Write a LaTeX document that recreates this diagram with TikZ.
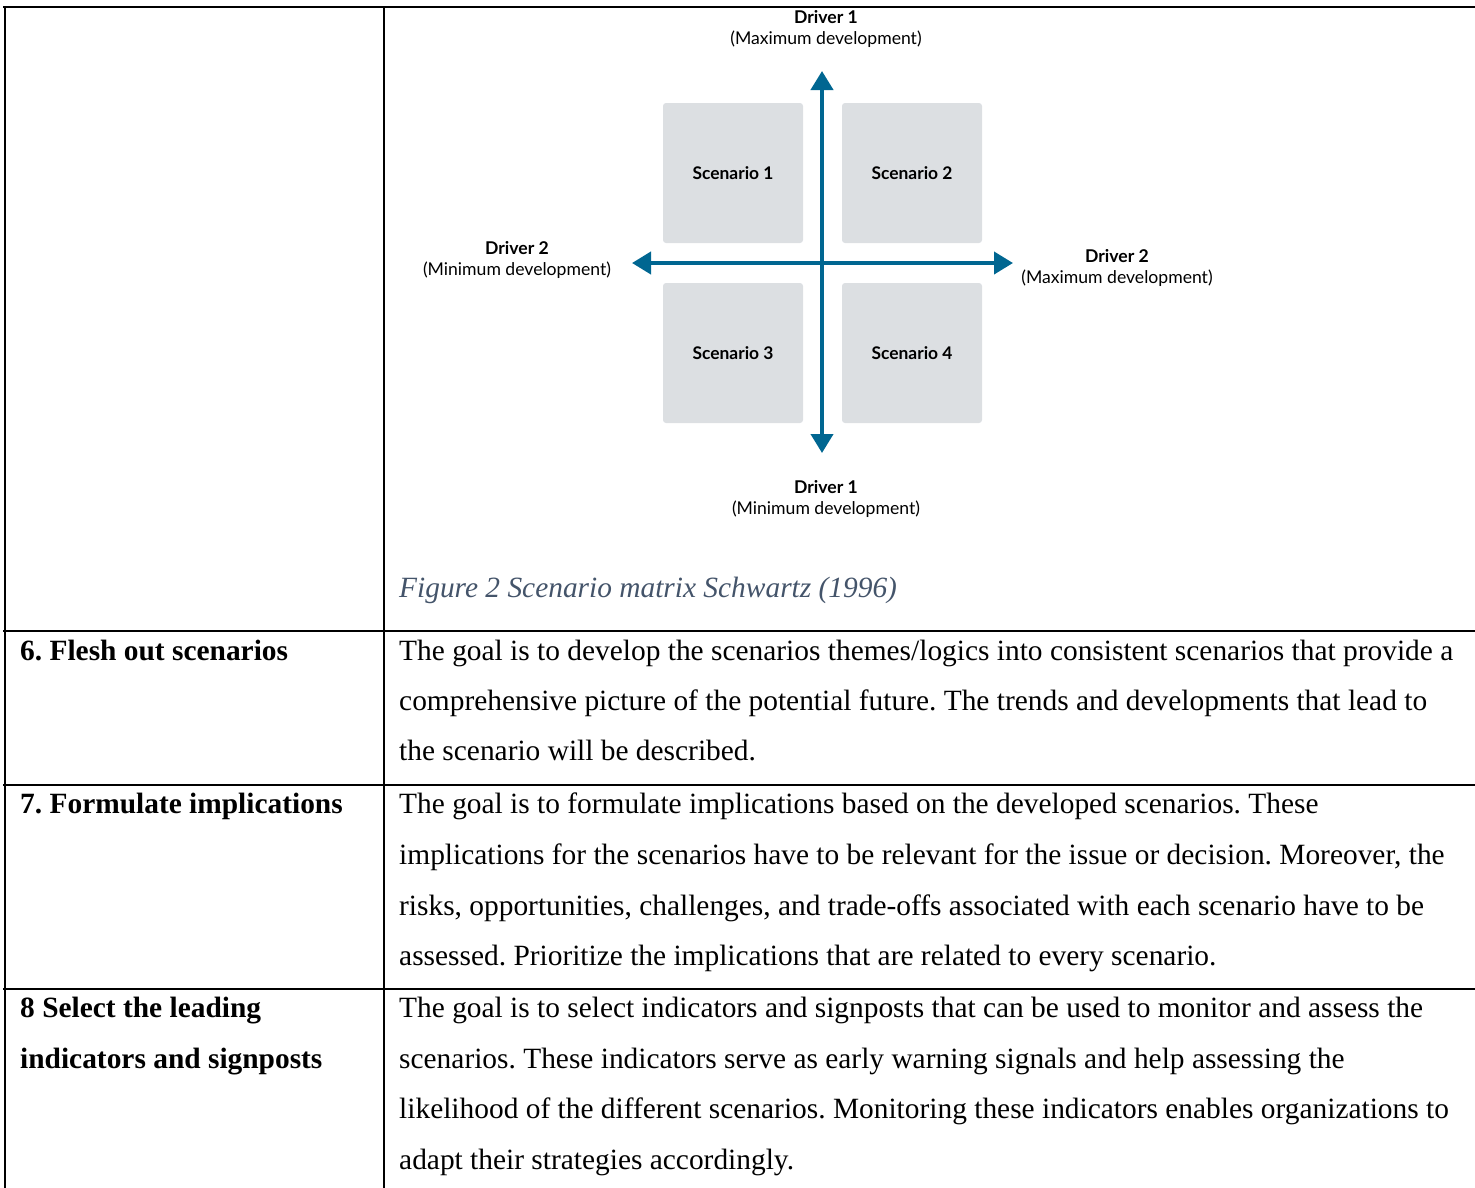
\documentclass[tikz,border=0pt]{standalone}
\usepackage{fontspec}
\setmainfont{Liberation Serif}
\newfontfamily\diagfont{Lato}
\usetikzlibrary{arrows.meta}
\definecolor{axisblue}{RGB}{0,102,145}
\definecolor{boxgray}{RGB}{220,223,226}
\definecolor{capblue}{RGB}{68,84,106}
\frenchspacing
\begin{document}
\begin{tikzpicture}[x=1pt,y=-1pt,
  body/.style={anchor=base west, inner sep=0pt, font=\fontsize{29.4}{35}\selectfont},
  head/.style={anchor=base west, inner sep=0pt, font=\fontsize{29.4}{35}\selectfont\bfseries},
  captext/.style={anchor=base west, inner sep=0pt, text=capblue, font=\fontsize{29.4}{35}\selectfont\itshape},
  lbl/.style={align=center, inner sep=0pt, font=\diagfont\fontsize{17.6}{21}\selectfont},
  scen/.style={fill=boxgray, rounded corners=3pt, minimum width=140pt, minimum height=140pt, inner sep=0pt, font=\diagfont\fontsize{17.4}{20}\selectfont\bfseries},
  tablerule/.style={line width=2pt, line cap=rect},
  axis/.style={line width=4pt, draw=axisblue, {Triangle[width=22pt,length=19pt]}-{Triangle[width=22pt,length=19pt]}}
]
\useasboundingbox (0,0) rectangle (1475,1187);
% table rules
\draw[tablerule] (4,6.5) -- (1476,6.5);
\draw[tablerule] (5,6.5) -- (5,1188);
\draw[line width=1.6pt] (384,6.5) -- (384,1188);
\draw[tablerule] (4,631) -- (1476,631);
\draw[tablerule] (4,785) -- (1476,785);
\draw[tablerule] (4,989) -- (1476,989);

% scenario boxes
\node[scen] (s1) at (733,173) {Scenario 1};
\node[scen] (s2) at (912,173) {Scenario 2};
\node[scen] (s3) at (733,353) {Scenario 3};
\node[scen] (s4) at (912,353) {Scenario 4};

% axes
\coordinate (vtop) at (822,71);
\coordinate (vbot) at (822,453);
\coordinate (hleft) at (632,263);
\coordinate (hright) at (1013,263);
\draw[axis] (vbot) -- (vtop);
\draw[axis] (hleft) -- (hright);

% axis labels
\node[lbl] (ltop) at (826,28.5) {{\bfseries Driver 1}\\(Maximum development)};
\node[lbl] (lbot) at (826,498.5) {{\bfseries Driver 1}\\(Minimum development)};
\node[lbl] (lleft) at (517,259.5) {{\bfseries Driver 2}\\(Minimum development)};
\node[lbl] (lright) at (1117,267.5) {{\bfseries Driver 2}\\(Maximum development)};

% caption
\node[captext] (cap) at (399,597) {Figure 2 Scenario matrix Schwartz (1996)};

% row 6
\node[head] (h6) at (20,660) {6. Flesh out scenarios};
\node[body] (t6a) at (399,660) {The goal is to develop the scenarios themes/logics into consistent scenarios that provide a};
\node[body] (t6b) at (399,710) {comprehensive picture of the potential future. The trends and developments that lead to};
\node[body] (t6c) at (399,760) {the scenario will be described.};

% row 7
\node[head] (h7) at (20,813) {7. Formulate implications};
\node[body] (t7a) at (399,813) {The goal is to formulate implications based on the developed scenarios. These};
\node[body] (t7b) at (399,864) {implications for the scenarios have to be relevant for the issue or decision. Moreover, the};
\node[body] (t7c) at (399,915) {risks, opportunities, challenges, and trade-offs associated with each scenario have to be};
\node[body] (t7d) at (399,965) {assessed. Prioritize the implications that are related to every scenario.};

% row 8
\node[head] (h8a) at (20,1017) {8 Select the leading};
\node[head] (h8b) at (20,1068) {indicators and signposts};
\node[body] (t8a) at (399,1017) {The goal is to select indicators and signposts that can be used to monitor and assess the};
\node[body] (t8b) at (399,1068) {scenarios. These indicators serve as early warning signals and help assessing the};
\node[body] (t8c) at (399,1118) {likelihood of the different scenarios. Monitoring these indicators enables organizations to};
\node[body] (t8d) at (399,1169) {adapt their strategies accordingly.};
\end{tikzpicture}
\end{document}
